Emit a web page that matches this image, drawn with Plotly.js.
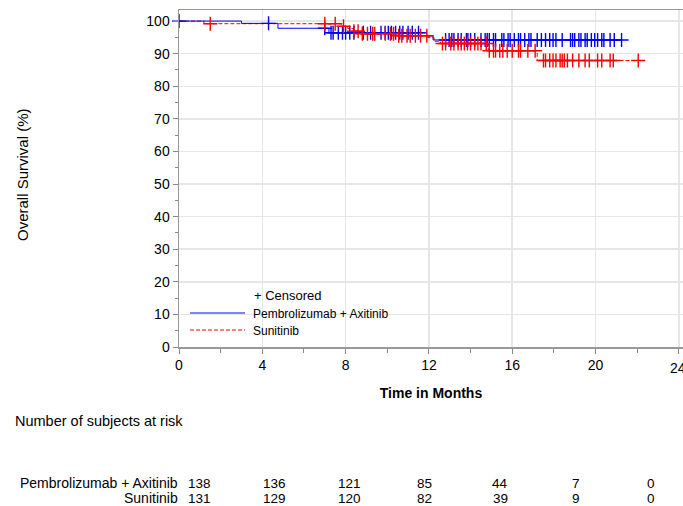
<!DOCTYPE html>
<html>
<head>
<meta charset="utf-8">
<script src="https://cdn.plot.ly/plotly-3.0.1.min.js"></script>
<style>html,body{margin:0;padding:0;background:#fff;}#chart{width:683px;height:506px;}</style>
</head>
<body>
<div id="chart"></div>
<script>
// ---- Data ----
const pembroName = "Pembrolizumab + Axitinib";
const suniName = "Sunitinib";

// Kaplan-Meier step points (time in months, survival %)
const pembroTimes = [0, 3.0, 4.75, 7.2, 11.9, 12.2, 21.25];
const pembroSurv  = [100, 99.3, 97.8, 96.4, 95.4, 94.2, 94.2];

const suniTimes = [0, 1.2, 7.8, 8.1, 8.4, 8.8, 10.4, 11.95, 12.25, 12.55, 14.85, 17.2, 22.05];
const suniSurv  = [100, 99.2, 98.4, 97.7, 96.9, 96.1, 95.5, 94.9, 93.8, 93.1, 90.9, 87.9, 87.9];

// Censoring times (months)
const pembroCensor = [0, 4.3, 7.0, 7.3, 7.4, 7.65, 7.85, 8.0, 8.2, 8.4, 8.85, 9.2, 9.7, 9.9, 10.05, 10.2, 10.4, 10.6, 10.75, 11.0, 11.2, 11.5,
  12.8, 12.97, 13.1, 13.2, 13.4, 13.55, 13.8, 13.87, 14.0, 14.2, 14.5, 14.7, 14.8, 14.9, 15.1, 15.2, 15.5, 15.6, 15.8, 15.9,
  16.1, 16.3, 16.4, 16.6, 16.8, 16.9, 17.2, 17.4, 17.6, 17.8, 17.96, 18.1, 18.4, 18.8, 18.9, 19.0, 19.2, 19.3, 19.5, 19.6,
  19.8, 19.96, 20.1, 20.3, 20.4, 20.7, 20.9, 21.25];
const suniCensor = [1.5, 7.0, 7.5, 7.9, 8.4, 8.6, 8.8, 9.05, 9.3, 9.4, 9.9, 10.15, 10.3, 10.55, 10.7, 10.95, 11.1, 11.35, 11.6, 11.9,
  12.65, 12.8, 13.05, 13.2, 13.4, 13.55, 13.7, 13.85, 14.0, 14.2, 14.35, 14.5, 14.75,
  14.9, 15.1, 15.2, 15.4, 15.55, 15.76, 16.0, 16.3, 16.4, 16.75, 17.1,
  17.5, 17.6, 17.8, 17.96, 18.1, 18.3, 18.4, 18.5, 18.65, 18.9, 19.2, 19.5, 19.7, 20.1, 20.3, 20.7, 20.85, 22.05];

// Number at risk table
const riskTimes = [0, 4, 8, 12, 16, 20, 24];
const riskPembro = [138, 136, 121, 85, 44, 7, 0];
const riskSuni = [131, 129, 120, 82, 39, 9, 0];

// Axis ticks
const xTicks = [0, 4, 8, 12, 16, 20, 24];
const yTicks = [0, 10, 20, 30, 40, 50, 60, 70, 80, 90, 100];

// ---- helpers ----
function stepAt(times, surv, t) {
  let v = surv[0];
  for (let i = 0; i < times.length; i++) { if (times[i] <= t) v = surv[i]; }
  return v;
}
const BLUE = "#0000ff", RED = "#ff0000";
const FONT = "Liberation Sans, Arial, sans-serif";

const traces = [
  { x: suniTimes, y: suniSurv, type: "scatter", mode: "lines", line: {shape: "hv", color: RED, width: 1, dash: "4px,2px"}, name: suniName, showlegend: false, hoverinfo: "skip" },
  { x: pembroTimes, y: pembroSurv, type: "scatter", mode: "lines", line: {shape: "hv", color: BLUE, width: 1}, name: pembroName, showlegend: false, hoverinfo: "skip" },
  { x: pembroCensor, y: pembroCensor.map(t => stepAt(pembroTimes, pembroSurv, t)), type: "scatter", mode: "markers",
    marker: {symbol: "cross-thin-open", size: 10, color: BLUE, line: {color: BLUE, width: 1.4}}, showlegend: false, cliponaxis: false },
  { x: suniCensor, y: suniCensor.map(t => stepAt(suniTimes, suniSurv, t)), type: "scatter", mode: "markers",
    marker: {symbol: "cross-thin-open", size: 10, color: RED, line: {color: RED, width: 1.4}}, showlegend: false, cliponaxis: false }
];

const W = 683, H = 506;
const mL = 179, mR = 0, mT = 10, mB = 159;
const xRange = [0, 24.2];
function xPaper(px) { return (px - mL) / (W - mL - mR); }
function yPaper(py) { return (H - mB - py) / (H - mT - mB); }

const annotations = [];
const shapes = [];

// Legend inside plot
annotations.push({xref: "paper", yref: "paper", x: xPaper(288), y: yPaper(295), text: "+ Censored", showarrow: false, xanchor: "center", yanchor: "middle", font: {family: FONT, size: 13, color: "#000"}});
annotations.push({xref: "paper", yref: "paper", x: xPaper(251), y: yPaper(314), text: pembroName, showarrow: false, xanchor: "left", yanchor: "middle", font: {family: FONT, size: 12, color: "#000"}});
annotations.push({xref: "paper", yref: "paper", x: xPaper(251), y: yPaper(331), text: suniName, showarrow: false, xanchor: "left", yanchor: "middle", font: {family: FONT, size: 12, color: "#000"}});
shapes.push({type: "line", xref: "paper", yref: "paper", x0: xPaper(190), x1: xPaper(245), y0: yPaper(313), y1: yPaper(313), line: {color: BLUE, width: 1}});
shapes.push({type: "line", xref: "paper", yref: "paper", x0: xPaper(190), x1: xPaper(245), y0: yPaper(330), y1: yPaper(330), line: {color: RED, width: 1, dash: "4px,2px"}});

// "24" tick label (partially visible at the right edge in the reference)
annotations.push({xref: "paper", yref: "paper", x: xPaper(678), y: yPaper(368), text: "24", showarrow: false, xanchor: "center", yanchor: "middle", font: {family: FONT, size: 14, color: "#000"}});

// Risk table
const ROW1 = 483, ROW2 = 498;
annotations.push({xref: "paper", yref: "paper", x: xPaper(13), y: yPaper(421), text: "Number of subjects at risk", showarrow: false, xanchor: "left", yanchor: "middle", font: {family: FONT, size: 14.5, color: "#000"}});
annotations.push({xref: "paper", yref: "paper", x: xPaper(179), y: yPaper(ROW1), text: pembroName, showarrow: false, xanchor: "right", yanchor: "middle", borderpad: 0, font: {family: FONT, size: 14, color: "#000"}});
annotations.push({xref: "paper", yref: "paper", x: xPaper(179), y: yPaper(ROW2), text: suniName, showarrow: false, xanchor: "right", yanchor: "middle", borderpad: 0, font: {family: FONT, size: 14, color: "#000"}});
const riskX0 = 199, riskStep = 75.3;
riskTimes.forEach((t, i) => {
  const px = riskX0 + riskStep * (t / 4);
  annotations.push({xref: "paper", yref: "paper", x: xPaper(px), y: yPaper(ROW1), text: String(riskPembro[i]), showarrow: false, xanchor: "center", yanchor: "middle", borderpad: 0, font: {family: FONT, size: 13.5, color: "#000"}});
  annotations.push({xref: "paper", yref: "paper", x: xPaper(px), y: yPaper(ROW2), text: String(riskSuni[i]), showarrow: false, xanchor: "center", yanchor: "middle", borderpad: 0, font: {family: FONT, size: 13.5, color: "#000"}});
});

// Y axis title
annotations.push({xref: "paper", yref: "paper", x: xPaper(22), y: yPaper(175), text: "Overall Survival (%)", textangle: -90, showarrow: false, xanchor: "center", yanchor: "middle", font: {family: FONT, size: 15, color: "#000"}});

const layout = {
  width: W, height: H,
  margin: {l: mL, r: mR, t: mT, b: mB, pad: 0},
  paper_bgcolor: "#fff", plot_bgcolor: "#fff",
  showlegend: false,
  font: {family: FONT, size: 13, color: "#000"},
  xaxis: {
    range: xRange, tickvals: xTicks, ticktext: xTicks.map(String),
    ticks: "outside", ticklen: 5, tickcolor: "#888", tickwidth: 1,
    minor: {dtick: 2, tick0: 0, ticks: "outside", ticklen: 4, tickcolor: "#888", showgrid: false},
    showline: true, linecolor: "#999", linewidth: 1.5, mirror: true,
    showgrid: true, gridcolor: "#e6e6e6", gridwidth: 1.5, zeroline: false,
    tickfont: {family: FONT, size: 14, color: "#000"},
    title: {text: "<b>Time in Months</b>", font: {family: FONT, size: 14, color: "#000"}, standoff: 16}
  },
  yaxis: {
    range: [0, 103.4], tickvals: yTicks, ticktext: yTicks.map(String),
    ticks: "outside", ticklen: 5, tickcolor: "#888", tickwidth: 1,
    minor: {dtick: 5, tick0: 0, ticks: "outside", ticklen: 3, tickcolor: "#888", showgrid: false},
    showline: true, linecolor: "#999", linewidth: 1.5,
    showgrid: true, gridcolor: "#e6e6e6", gridwidth: 1.5, zeroline: false,
    tickfont: {family: FONT, size: 14, color: "#000"}
  },
  annotations: annotations,
  shapes: shapes
};

Plotly.newPlot("chart", traces, layout, {displayModeBar: false, staticPlot: true});
</script>
</body>
</html>
